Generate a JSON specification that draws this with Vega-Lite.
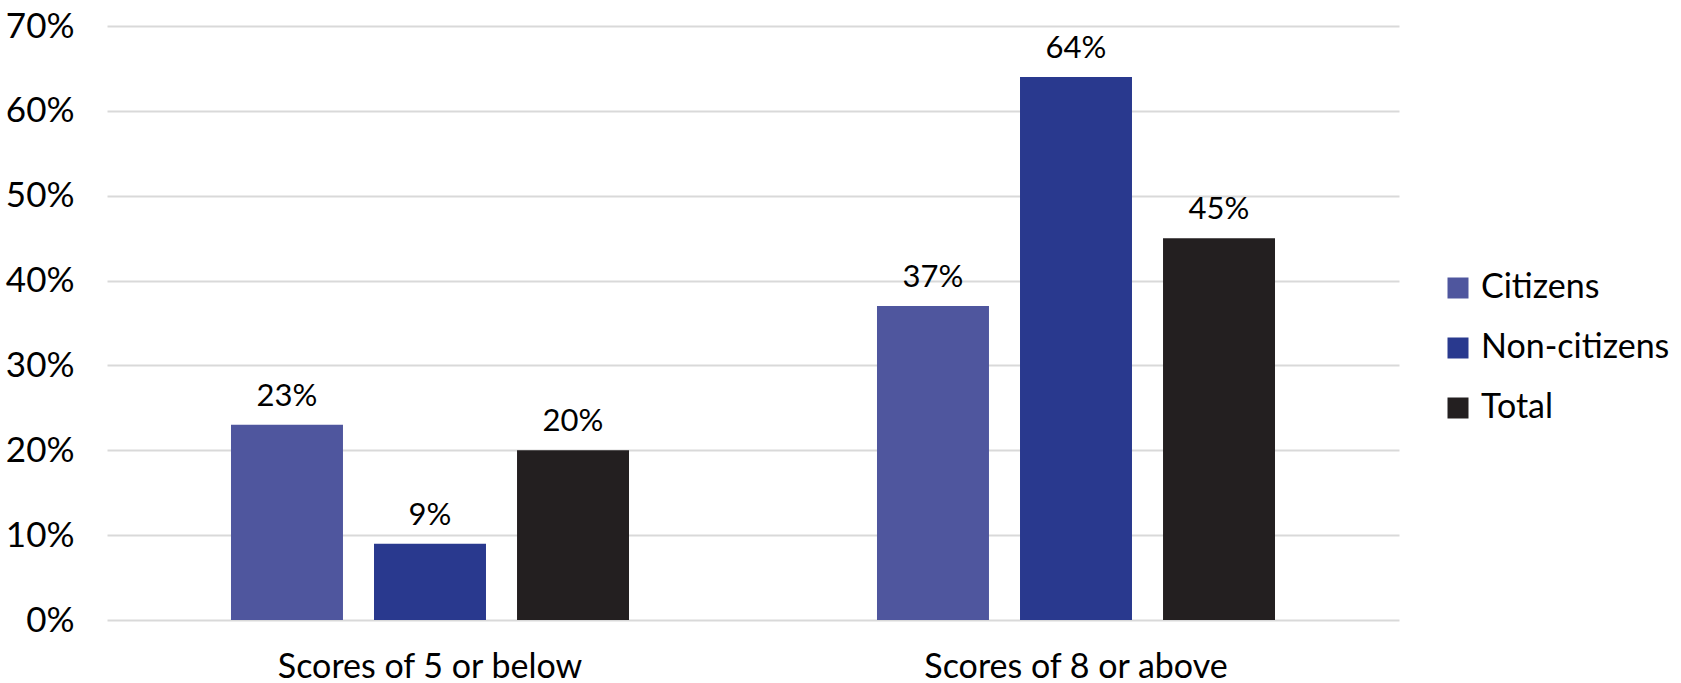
{
  "$schema": "https://vega.github.io/schema/vega-lite/v6.json",
  "autosize": {"type": "none"},
  "width": 1292,
  "height": 594,
  "padding": {"left": 107, "top": 26, "right": 282, "bottom": 63},
  "background": "white",
  "config": {
    "view": {"stroke": null},
    "font": "Lato"
  },
  "data": {
    "values": [
      {"group": "Scores of 5 or below", "series": "Citizens", "value": 0.23},
      {"group": "Scores of 5 or below", "series": "Non-citizens", "value": 0.09},
      {"group": "Scores of 5 or below", "series": "Total", "value": 0.20},
      {"group": "Scores of 8 or above", "series": "Citizens", "value": 0.37},
      {"group": "Scores of 8 or above", "series": "Non-citizens", "value": 0.64},
      {"group": "Scores of 8 or above", "series": "Total", "value": 0.45}
    ]
  },
  "encoding": {
    "x": {
      "field": "group", "type": "nominal",
      "scale": {"paddingInner": 0, "paddingOuter": 0},
      "axis": {
        "title": null, "labelAngle": 0, "domain": false, "ticks": false,
        "labelFont": "Lato", "labelFontSize": 34, "labelColor": "#000000",
        "labelPadding": 30, "labelBaseline": "top", "labelLimit": 0
      }
    },
    "xOffset": {
      "field": "series", "type": "nominal",
      "scale": {"domain": ["Citizens", "Non-citizens", "Total"], "paddingInner": 0.217, "paddingOuter": 0.867}
    },
    "y": {
      "field": "value", "type": "quantitative",
      "scale": {"domain": [0, 0.7], "nice": false},
      "axis": {
        "title": null, "format": ".0%", "values": [0, 0.1, 0.2, 0.3, 0.4, 0.5, 0.6, 0.7],
        "domain": false, "ticks": false, "grid": true,
        "gridColor": "#d9d9d9", "gridWidth": 2,
        "labelFont": "Lato", "labelFontSize": 35, "labelColor": "#000000",
        "labelPadding": 33
      }
    }
  },
  "layer": [
    {
      "mark": {"type": "bar"},
      "encoding": {
        "color": {
          "field": "series", "type": "nominal",
          "scale": {"domain": ["Citizens", "Non-citizens", "Total"], "range": ["#4f569e", "#29398e", "#231f20"]},
          "legend": {
            "title": null, "orient": "none", "legendX": 1334, "legendY": 245,
            "symbolType": "square", "symbolSize": 441, "symbolStrokeWidth": 0,
            "labelFont": "Lato", "labelFontSize": 34, "labelColor": "#000000",
            "rowPadding": 26, "labelOffset": 6, "labelLimit": 0
          }
        }
      }
    },
    {
      "mark": {"type": "text", "baseline": "alphabetic", "dy": -19, "font": "Lato", "fontSize": 31, "color": "#000000"},
      "encoding": {
        "text": {"field": "value", "type": "quantitative", "format": ".0%"}
      }
    }
  ]
}
